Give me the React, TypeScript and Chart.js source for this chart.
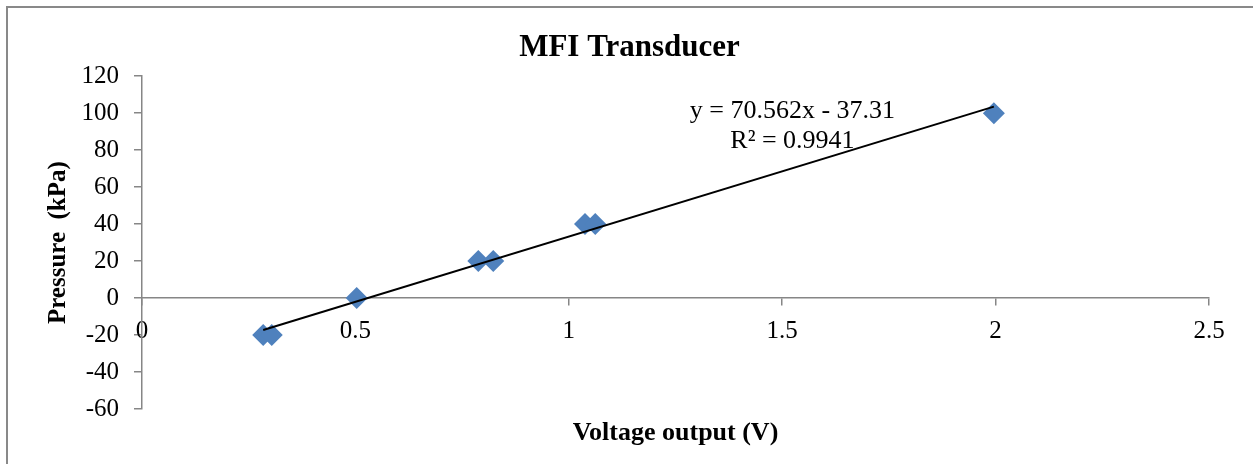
import React, { useEffect, useRef } from 'react';
import { Chart, registerables } from 'chart.js';

Chart.register(...registerables);

// ---- data ----
const voltage = [0.284, 0.304, 0.503, 0.788, 0.823, 1.038, 1.062, 1.996];
const pressure = [-20, -20, 0, 20, 20, 40, 40, 100];
const trendSlope = 70.562;
const trendIntercept = -37.31;
const equationLines = ['y = 70.562x - 37.31', 'R² = 0.9941'];
const xTicks = [0, 0.5, 1, 1.5, 2, 2.5];
const yTicks = [-60, -40, -20, 0, 20, 40, 60, 80, 100, 120];
const chartTitle = 'MFI Transducer';
const xTitle = 'Voltage output (V)';
const yTitle = 'Pressure  (kPa)';

const SERIF = "'Liberation Serif', 'Times New Roman', Times, serif";
const AXIS_GRAY = '#868686';

const overlayPlugin = {
  id: 'overlay',
  beforeDraw(chart: any) {
    const { ctx } = chart;
    ctx.save();
    ctx.strokeStyle = '#898989';
    ctx.lineWidth = 2;
    ctx.beginPath();
    ctx.moveTo(7, chart.height);
    ctx.lineTo(7, 7);
    ctx.lineTo(chart.width, 7);
    ctx.stroke();
    ctx.restore();
  },
  afterDraw(chart: any) {
    const { ctx, chartArea, scales } = chart;
    ctx.save();
    ctx.fillStyle = '#000';
    ctx.textAlign = 'center';
    ctx.textBaseline = 'alphabetic';
    ctx.font = `bold 26px ${SERIF}`;
    ctx.fillText(xTitle, (chartArea.left + chartArea.right) / 2, chartArea.bottom + 31);
    ctx.font = `26px ${SERIF}`;
    const ex = scales.x.getPixelForValue(1.524);
    const ey = scales.y.getPixelForValue(97.4);
    equationLines.forEach((t, i) => ctx.fillText(t, ex, ey + i * 30.5));
    ctx.restore();
  },
};

export default function App() {
  const canvasRef = useRef<HTMLCanvasElement | null>(null);

  useEffect(() => {
    document.body.style.margin = '0';
    const canvas = canvasRef.current;
    if (!canvas) return;

    const points = voltage.map((v, i) => ({ x: v, y: pressure[i] }));
    const xMin = Math.min(...voltage);
    const xMax = Math.max(...voltage);
    const trend = [
      { x: xMin, y: trendSlope * xMin + trendIntercept },
      { x: xMax, y: trendSlope * xMax + trendIntercept },
    ];

    const chart = new Chart(canvas, {
      type: 'scatter',
      data: {
        datasets: [
          {
            label: 'Linear (Pressure)',
            data: trend,
            type: 'line',
            showLine: true,
            borderColor: '#000',
            borderWidth: 2,
            pointRadius: 0,
            fill: false,
            order: 0,
          } as any,
          {
            label: 'Pressure',
            data: points,
            pointStyle: 'rectRot',
            pointRadius: 11,
            pointHoverRadius: 11,
            backgroundColor: '#4F81BD',
            borderColor: '#4F81BD',
            borderWidth: 0,
            order: 1,
          },
        ],
      },
      options: {
        responsive: false,
        animation: false,
        layout: { padding: { left: 50, right: 44, top: 0, bottom: 55 } },
        plugins: {
          legend: { display: false },
          tooltip: { enabled: false },
          title: {
            display: true,
            text: chartTitle,
            color: '#000',
            font: { family: SERIF, size: 31, weight: 'bold', lineHeight: 1.2 },
            padding: { top: 29, bottom: 10 },
          },
        },
        scales: {
          x: {
            type: 'linear',
            position: { y: 0 } as any,
            min: xTicks[0],
            max: xTicks[xTicks.length - 1],
            ticks: {
              stepSize: xTicks[1] - xTicks[0],
              color: '#000',
              font: { family: SERIF, size: 25 },
              padding: 11,
              maxRotation: 0,
              callback: (v: any) => String(Number(v)),
            },
            grid: {
              display: true,
              drawOnChartArea: false,
              drawTicks: true,
              tickLength: 7,
              color: AXIS_GRAY,
              lineWidth: 1.5,
            },
            border: { display: true, color: AXIS_GRAY, width: 1.5 },
          },
          y: {
            type: 'linear',
            position: 'left',
            min: yTicks[0],
            max: yTicks[yTicks.length - 1],
            ticks: {
              stepSize: yTicks[1] - yTicks[0],
              color: '#000',
              font: { family: SERIF, size: 25 },
              padding: 15,
            },
            grid: {
              display: true,
              drawOnChartArea: false,
              drawTicks: true,
              tickLength: 8,
              color: AXIS_GRAY,
              lineWidth: 1.5,
            },
            border: { display: true, color: AXIS_GRAY, width: 1.5 },
            title: {
              display: true,
              text: yTitle,
              color: '#000',
              font: { family: SERIF, size: 25, weight: 'bold', lineHeight: 1.2 },
              padding: { top: -6.5, bottom: 0 },
            },
            afterFit: (scale: any) => {
              scale.width = 92;
            },
          },
        },
      },
      plugins: [overlayPlugin],
    });

    return () => chart.destroy();
  }, []);

  return (
    <div style={{ width: 1253, height: 464, background: '#fff' }}>
      <canvas ref={canvasRef} width={1253} height={464} style={{ display: 'block' }} />
    </div>
  );
}
